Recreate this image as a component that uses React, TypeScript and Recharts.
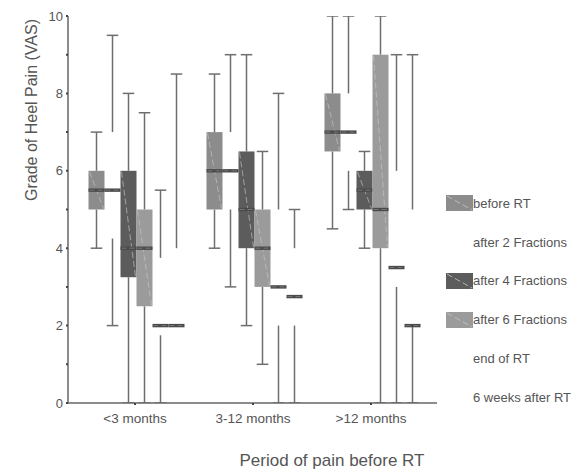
import React from 'react';
import { ComposedChart, Bar, XAxis, YAxis, Legend } from 'recharts';

const categories = ['<3 months', '3-12 months', '>12 months'];

// Each entry: [min, q1, median, q3, max] per category
const beforeRT = [[4, 5, 5.5, 6, 7], [4, 5, 6, 7, 8.5], [4.5, 6.5, 7, 8, 10]];
const after2Fractions = [[2, 4.25, 5.5, 7, 9.5], [3, 5, 6, 7, 9], [5, 6, 7, 8, 10]];
const after4Fractions = [[0, 3.25, 4, 6, 8], [2, 4, 5, 6.5, 9], [4, 5, 5.5, 6, 6.5]];
const after6Fractions = [[0, 2.5, 4, 5, 7.5], [1, 3, 4, 5, 6.5], [0, 4, 5, 9, 10]];
const endOfRT = [[0, 1.75, 2, 3.75, 5.5], [0, 2, 3, 5, 8], [0, 3, 3.5, 6, 9]];
const weeks6AfterRT = [[2, 2, 2, 4, 8.5], [0, 2, 2.75, 4, 5], [0, 2, 2, 5, 9]];

const seriesNames = ['before RT', 'after 2 Fractions', 'after 4 Fractions', 'after 6 Fractions', 'end of RT', '6 weeks after RT'];
const seriesStats = [beforeRT, after2Fractions, after4Fractions, after6Fractions, endOfRT, weeks6AfterRT];
const seriesFills = ['#8c8c8c', 'none', '#5c5c5c', '#9b9b9b', 'none', 'none'];

const yTicks = [0, 1, 2, 3, 4, 5, 6, 7, 8, 9, 10];

const FONT = '"Liberation Sans", Arial, sans-serif';
const TEXT_COLOR = '#555555';
const WHISKER = '#6e6e6e';
const MEDIAN = '#4a4a4a';

const seriesList = seriesNames.map((name, i) => ({ key: 's' + i, name, stats: seriesStats[i], fill: seriesFills[i] }));

const data = categories.map((c, ci) => {
  const row: any = { category: c };
  seriesList.forEach((s) => {
    row[s.key] = s.stats[ci];
  });
  return row;
});

const makeShape = (key: string, fill: string) => (props: any) => {
  const { x, y, width, height, payload } = props;
  const st = payload[key];
  if (!st) return null;
  const [mn, q1, med, q3, mx] = st;
  const k = height / (mx - mn);
  const py = (v: number) => y + (mx - v) * k;
  const cx = x + width / 2;
  const capW = width * 0.72;
  const items: any[] = [];
  if (mx > q3) {
    items.push(<line key="wu" x1={cx} x2={cx} y1={py(mx)} y2={py(q3)} stroke={WHISKER} strokeWidth={1.5} />);
    items.push(<line key="cu" x1={cx - capW / 2} x2={cx + capW / 2} y1={py(mx)} y2={py(mx)} stroke={WHISKER} strokeWidth={1.5} />);
  }
  if (q1 > mn) {
    items.push(<line key="wl" x1={cx} x2={cx} y1={py(q1)} y2={py(mn)} stroke={WHISKER} strokeWidth={1.5} />);
    items.push(<line key="cl" x1={cx - capW / 2} x2={cx + capW / 2} y1={py(mn)} y2={py(mn)} stroke={WHISKER} strokeWidth={1.5} />);
  }
  if (fill !== 'none') {
    const top = py(q3);
    const bot = py(q1);
    items.push(<rect key="box" x={x} y={top} width={width} height={bot - top} fill={fill} />);
    items.push(
      <line key="diag" x1={x + 1} y1={top + 1} x2={x + width - 1} y2={bot - 1} stroke="#c8c8c8" strokeWidth={0.8} strokeDasharray="6 3" strokeOpacity={0.8} />
    );
  }
  const my = py(med);
  items.push(<rect key="med" x={x} y={my - 1.7} width={width} height={3.4} fill={MEDIAN} />);
  items.push(<line key="medd" x1={x + 1} x2={x + width - 1} y1={my} y2={my} stroke="#8a8a8a" strokeWidth={0.7} strokeDasharray="5 3" />);
  return <g>{items}</g>;
};

const renderLegend = () => (
  <div style={{ fontFamily: FONT, fontSize: 13, color: TEXT_COLOR }}>
    {seriesList.map((s) => (
      <div key={s.key} style={{ display: 'flex', alignItems: 'center', height: 38.8 }}>
        <svg width={27} height={16} style={{ flex: 'none' }}>
          {s.fill !== 'none' ? (
            <g>
              <rect x={0} y={0} width={27} height={16} fill={s.fill} />
              <line x1={1} y1={1} x2={26} y2={15} stroke="#c8c8c8" strokeWidth={0.8} strokeDasharray="6 3" />
            </g>
          ) : null}
        </svg>
        <span style={{ marginLeft: 0, whiteSpace: 'nowrap' }}>{s.name}</span>
      </div>
    ))}
  </div>
);

export default function App() {
  return (
    <div style={{ position: 'absolute', left: 0, top: 0, width: 586, height: 469, background: '#fff' }}>
      <ComposedChart
        width={586}
        height={469}
        data={data}
        margin={{ top: 16, right: 149, left: 28, bottom: 36 }}
        barCategoryGap={12.5}
        barGap={0}
      >
        <XAxis
          dataKey="category"
          padding={{ left: 8, right: 7 }}
          height={30}
          axisLine={{ stroke: '#666', strokeWidth: 1.5 }}
          tickLine={{ stroke: '#444', strokeWidth: 2 }}
          tickSize={2}
          tickMargin={8}
          tick={{ fill: TEXT_COLOR, fontSize: 13.5, fontFamily: FONT }}
          label={(p: any) => (
            <text x={332} y={466} textAnchor="middle" fill={TEXT_COLOR} fontSize={17} fontFamily={FONT}>
              Period of pain before RT
            </text>
          )}
        />
        <YAxis
          type="number"
          domain={[0, 10]}
          ticks={yTicks}
          interval={0}
          allowDataOverflow
          width={40}
          axisLine={{ stroke: '#666', strokeWidth: 1.5 }}
          tickLine={{ stroke: '#444', strokeWidth: 2 }}
          tickSize={2}
          tickMargin={3}
          tickFormatter={(v: number) => (v % 2 === 0 ? String(v) : '')}
          tick={{ fill: TEXT_COLOR, fontSize: 13, fontFamily: FONT }}
          label={(p: any) => (
            <text
              x={31}
              y={110}
              transform="rotate(-90 31 110)"
              textAnchor="middle"
              dominantBaseline="central"
              fill={TEXT_COLOR}
              fontSize={16}
              fontFamily={FONT}
            >
              Grade of Heel Pain (VAS)
            </text>
          )}
        />
        <Legend
          content={renderLegend}
          layout="horizontal"
          verticalAlign="middle"
          align="center"
          wrapperStyle={{ position: 'absolute', left: 446, top: 184, width: 140 }}
        />
        {seriesList.map((s) => (
          <Bar
            key={s.key}
            name={s.name}
            dataKey={(d: any) => [d[s.key][0], d[s.key][4]]}
            fill={s.fill === 'none' ? '#ffffff' : s.fill}
            shape={makeShape(s.key, s.fill)}
            isAnimationActive={false}
          />
        ))}
      </ComposedChart>
    </div>
  );
}
